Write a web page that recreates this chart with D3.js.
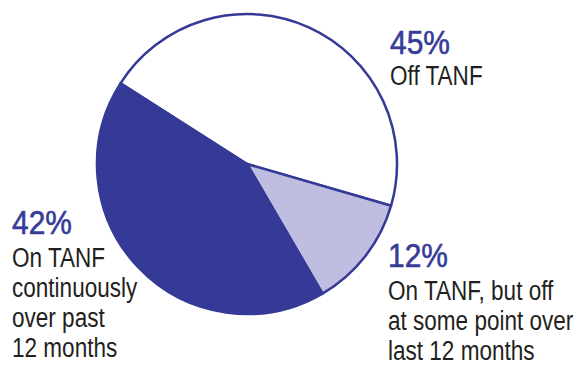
<!DOCTYPE html>
<html>
<head>
<meta charset="utf-8">
<script src="https://cdn.jsdelivr.net/npm/d3@7"></script>
<style>
  html, body { margin: 0; padding: 0; background: #fff; }
  svg { display: block; }
  .pct { font-family: "Liberation Sans", Arial, sans-serif; fill: #363c98; stroke: #363c98; stroke-width: 0.6px; }
  .desc { font-family: "Liberation Sans", Arial, sans-serif; fill: #231f20; }
</style>
</head>
<body>
<script>
// TANF status shares (percent)
const categories = ["Off TANF", "On TANF, but off at some point over last 12 months", "On TANF continuously over past 12 months"];
const values = [45, 12, 42];
const pctLabels = ["45%", "12%", "42%"];
const descLines = [
  ["Off TANF"],
  ["On TANF, but off", "at some point over", "last 12 months"],
  ["On TANF", "continuously", "over past", "12 months"]
];
const colors = ["#ffffff", "#bfbee0", "#353a96"];

const W = 579, H = 366;
const cx = 247, cy = 164, r = 150;

const svg = d3.select("body").append("svg")
  .attr("width", W).attr("height", H);

const pie = d3.pie()
  .value(d => d)
  .sort(null)
  .startAngle(-57.5 * Math.PI / 180)
  .endAngle((360 - 57.5) * Math.PI / 180);

const arc = d3.arc().innerRadius(0).outerRadius(r);

const g = svg.append("g").attr("transform", `translate(${cx},${cy})`);

g.selectAll("path")
  .data(pie(values))
  .join("path")
  .attr("d", arc)
  .attr("fill", (d, i) => colors[i])
  .attr("stroke", "#353a96")
  .attr("stroke-width", 2.5)
  .attr("stroke-linejoin", "round");

// Label blocks: percent headline, then description lines (condensed type)
const labelPos = [
  { x: 390, y: 54 },
  { x: 388, y: 267 },
  { x: 12, y: 234 }
];

function condensedText(parent, cls, x, y, size, sx, str) {
  parent.append("text")
    .attr("class", cls)
    .attr("transform", `translate(${x},${y}) scale(${sx},1)`)
    .attr("font-size", size)
    .text(str);
}

labelPos.forEach((p, i) => {
  const t = svg.append("g");
  condensedText(t, "pct", p.x, p.y, 34, 0.88, pctLabels[i]);
  descLines[i].forEach((line, j) => {
    condensedText(t, "desc", p.x, p.y + (i === 0 ? 31 : 33) + j * 30, 27, 0.835, line);
  });
});
</script>
</body>
</html>
